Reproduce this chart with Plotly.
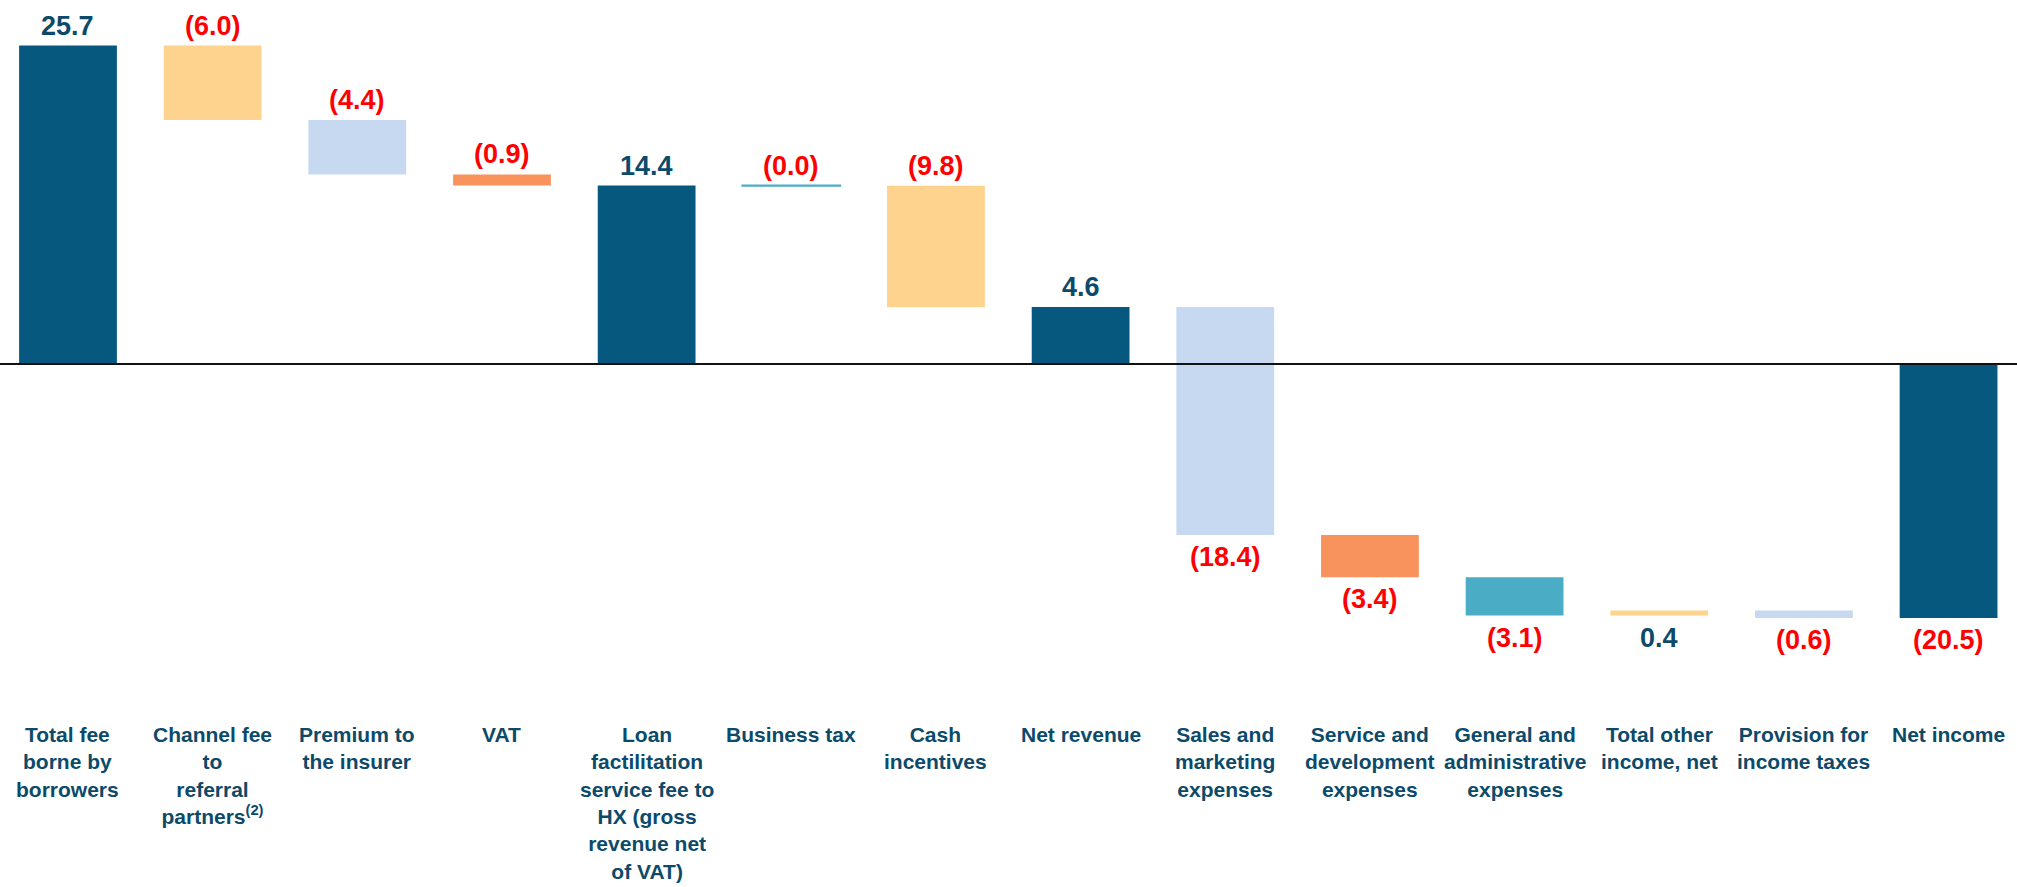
import plotly.graph_objects as go

categories = [
    "Total fee<br>borne by<br>borrowers",
    "Channel fee<br>to<br>referral<br>partners<sup>(2)</sup>",
    "Premium to<br>the insurer",
    "VAT",
    "Loan<br>factilitation<br>service fee to<br>HX (gross<br>revenue net<br>of VAT)",
    "Business tax",
    "Cash<br>incentives",
    "Net revenue",
    "Sales and<br>marketing<br>expenses",
    "Service and<br>development<br>expenses",
    "General and<br>administrative<br>expenses",
    "Total other<br>income, net",
    "Provision for<br>income taxes",
    "Net income",
]
values = [25.7, -6.0, -4.4, -0.9, 14.4, -0.02, -9.8, 4.6, -18.4, -3.4, -3.1, 0.4, -0.6, -20.5]
measures = ["total", "relative", "relative", "relative", "total", "relative", "relative",
            "total", "relative", "relative", "relative", "relative", "relative", "total"]
colors = ["#06587f", "#fdd38d", "#c7d9f0", "#f9935e", "#06587f", "#4bacc6", "#fdd38d",
          "#06587f", "#c7d9f0", "#f9935e", "#4bacc6", "#fdd38d", "#c7d9f0", "#06587f"]

DARK = "#0c4a6a"
RED = "#ff0000"
FONT = "Liberation Sans"

# waterfall geometry from the data
bases, heights = [], []
running = 0.0
for v, m in zip(values, measures):
    if m == "total":
        bases.append(0.0)
        heights.append(v)
        running = v
    else:
        bases.append(running)
        heights.append(v)
        running += v

x = list(range(len(categories)))
line_w = [2 if abs(v) < 0.05 else 0 for v in values]

fig = go.Figure()
fig.add_trace(go.Bar(
    x=x, y=heights, base=bases,
    marker=dict(color=colors, line=dict(color=colors, width=line_w)),
    hoverinfo="skip",
))

annotations = []
for i, (b, h, v) in enumerate(zip(bases, heights, values)):
    top = max(b, b + h)
    bot = min(b, b + h)
    end = b + h
    txt = f"({abs(v):.1f})" if v < 0 else f"{v:.1f}"
    col = RED if v < 0 else DARK
    if end < 0:
        annotations.append(dict(x=i, y=bot, text=txt, showarrow=False, yanchor="middle",
                                yshift=-22, font=dict(family=FONT, size=27, color=col)))
    else:
        annotations.append(dict(x=i, y=top, text=txt, showarrow=False, yanchor="middle",
                                yshift=20, font=dict(family=FONT, size=27, color=col)))
    annotations.append(dict(x=i, y=-28.8, text=f"<b>{categories[i]}</b>", showarrow=False,
                            yanchor="top", align="center",
                            font=dict(family=FONT, size=21, color=DARK)))
for a in annotations:
    if not a["text"].startswith("<b>"):
        a["text"] = f"<b>{a['text']}</b>"

fig.update_layout(
    width=2017, height=887,
    margin=dict(l=0, r=0, t=0, b=0),
    paper_bgcolor="white", plot_bgcolor="white",
    showlegend=False,
    bargap=0.324,
    xaxis=dict(range=[-0.47, 13.473], showticklabels=False, showgrid=False,
               zeroline=False, fixedrange=True),
    yaxis=dict(range=[-42.21, 29.38], showticklabels=False, showgrid=False,
               zeroline=False, fixedrange=True),
    annotations=annotations,
    shapes=[dict(type="line", xref="paper", x0=0, x1=1, yref="y", y0=0, y1=0,
                 line=dict(color="#111111", width=2), layer="above")],
)

fig.write_html("out.html")
